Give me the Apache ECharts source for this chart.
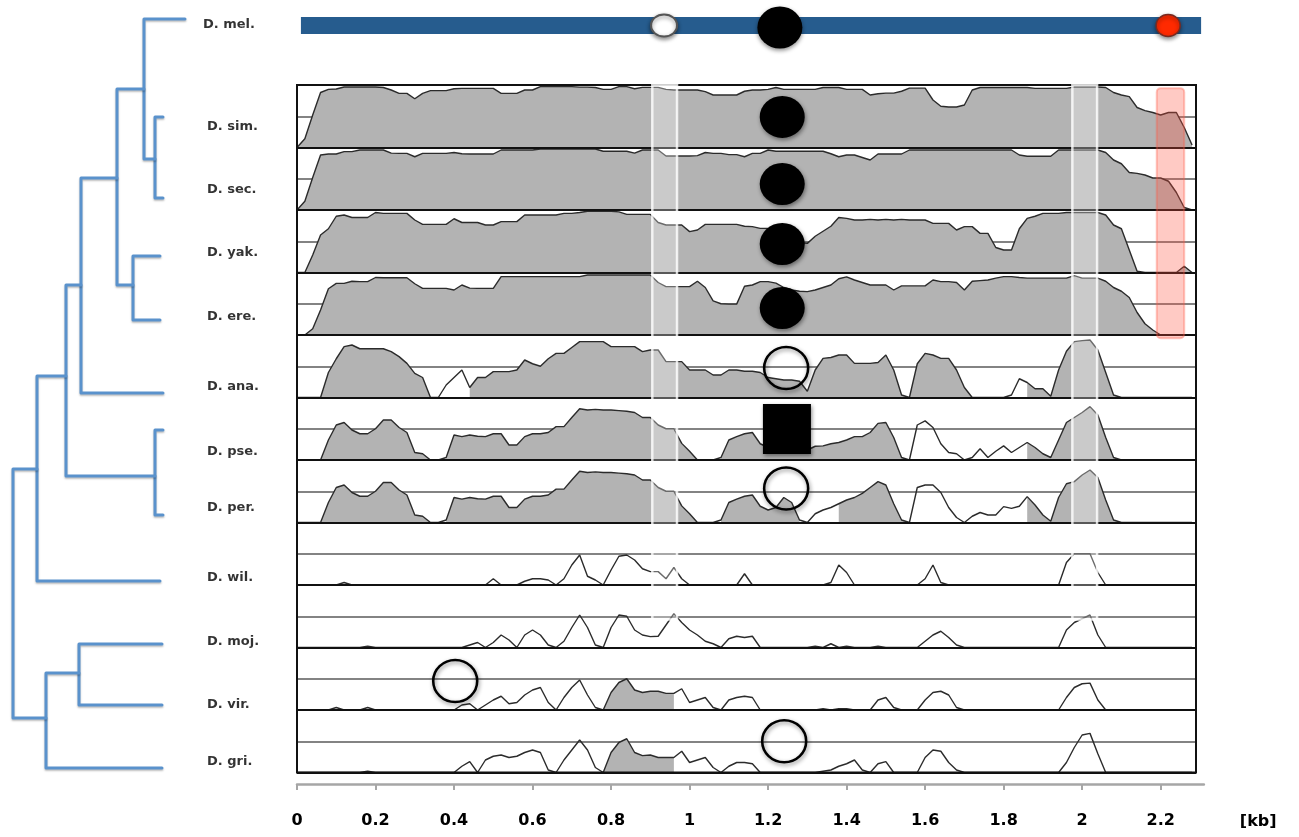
<!DOCTYPE html>
<html><head><meta charset="utf-8">
<script src="https://cdn.jsdelivr.net/npm/echarts@6/dist/echarts.min.js"></script>
<style>html,body{margin:0;padding:0;background:#fff}#c{width:1299px;height:837px}</style>
</head><body><div id="c"></div>
<script>
// ---------------- DATA ----------------
const STEP_KB = 0.02; // sampling step of the identity profiles (kb)
const xTickValues = [0, 0.2, 0.4, 0.6, 0.8, 1, 1.2, 1.4, 1.6, 1.8, 2, 2.2];
const panelSpecies = ['D. sim.','D. sec.','D. yak.','D. ere.','D. ana.','D. pse.','D. per.','D. wil.','D. moj.','D. vir.','D. gri.'];

// percent identity (50-100 scale), one value every 0.02 kb from 0 to 2.28 kb
const simValues = [50,57,76,94,96.5,96.8,98.4,98.4,98.4,98.4, 98.4,98,96,93.3,93.3,89,93.3,95.5,95.5,95.5, 97,97.3,97.3,97.3,97.3,97.3,93.3,93.3,93.3,96, 96,98.7,98.7,98.7,98.7,98.7,98.3,98.3,98,96.5, 96.5,98.7,98.7,97,98.1,98.1,98.1,96.5,96,96, 96,96,94.7,92,92,92,92,95,96,96, 96.5,98,96.5,96.5,96.5,96.5,96.5,98,98,98, 96.5,96.5,96.5,92,93,93.5,93.5,95,97.5,97.5, 97.5,88,83,82.4,82.4,84,96,98,98,98, 98,98,98,98,97.3,97.3,97.3,97.3,97.3,98.4, 98.4,98.4,98.4,98,94,92,90.7,82,79.5,78, 76,78,78,66,52];
const secValues = [50,57,76,94,94.8,94.8,96.7,96.7,98,98, 98,98,95.5,95.3,95.3,92.6,95.3,95.3,95.3,95.3, 96,95,94.8,94.8,94.8,94.8,98,98,98,98, 98,98.8,98.8,98.8,98.8,98.8,98.8,98.8,98.8,97, 97,97,97,95.5,98,98,98,93.2,93.2,93.2, 93.2,93.5,96,95.3,95.3,94.3,94.3,92.6,95.3,95.3, 98,97,97,97,97,97,97,97,95,92.6, 94,94,92,90,94.8,94.8,94.8,94.8,98,98, 98,98,98,98,98,98,98,98,98,98, 98,98,94,93,93,93,93,98,98,98, 98,98,98,96,90,87,80,79.3,78,75.6, 75.6,73,64,52,50];
const yakValues = [50,50,64,80,85,95,96,94,94,94, 98,97.3,97.3,97.3,97.3,92,88.5,88.5,88.5,88.5, 93,90,90,90,88,88,90.7,90.7,90.7,96, 96,96,96,96,97.3,97.3,98,99,99,99, 99,98.5,96.5,96.5,96.5,96.5,90,88,88,88, 82.7,84,88.5,88.5,88.5,88.5,88.5,87,86.7,85.3, 85.3,85,80,76,74,73.3,79,83,87,94, 93.3,92,92,92.5,92,92.5,92,92.5,92,92, 92,89.3,89.3,89.3,84,86.7,86.7,81.3,81.3,70, 68,68,85,93.3,95,97.3,97.3,97.3,98,98, 98,98,98,96,88,85,68,51,50,50, 50,50,50,55,50];
const ereValues = [50,50,55,70,87,91.3,91.3,93,92.7,92.7, 96,95.8,95.8,95.8,95.8,91,87.3,87.3,87.3,87.3, 86,90,87.5,87.3,87.3,87.3,96.7,96.7,96.7,96.7, 96.7,96.7,96.7,96.7,96.7,96.7,96.7,98,98,98, 98,98,98,98,98,98,92,88.7,88.7,88.7, 88.7,93,88,77.3,75,74.7,74.7,89,90,92.7, 92.7,91.5,88,86,85,84.7,86,88,90,95, 96.5,94,92,90,90,90,86,89.3,89.3,89.3, 89.3,94,92.7,92.7,92,86,93,93.5,94,95.5, 96.7,96.7,96,95.5,95.5,95.5,95.5,95.5,95.5,97.5, 95.5,95.5,95.5,93,88,85,80,68,59,54, 50,50,50,50,50];
const anaValues = [50,50,50,50,70,81,90.7,92,89,89, 89,89,86.7,82.7,77.3,69.3,66,50,50,60, 66,72,58,66,66,70.7,70.7,70.7,72,80, 77,75,81,85.3,85.3,90,94.7,94.7,94.7,94.7, 90.7,90.7,90.7,90.7,86.7,88,88,78.7,78.7,78.7, 72,72,72,68,68,72,72,71,71,70, 66,65,64,64,63,55,72,81.3,82,84, 84,77.3,77.3,77.3,78,84,72,52,50,77, 85.3,84,81.3,81.3,72,58,50,50,50,50, 50,52,65,62,57,57,51,72,87,94.7, 95.5,96,88,70,52,50,50,50,50,50, 50,50,50,50,50];
const pseValues = [50,50,50,50,66,78,80,74,71,71, 75,82,82,76,72,56,55,50,50,52, 70,68.7,70,69,68.7,71,71,62,62,68.7, 71,71,72,76.7,76.7,84,91,90,90.5,90, 90,89.5,89,88,84,84,78,75,75,63.3, 57,50,50,50,52,66,68.7,71,72,63, 60,58,57,56,57,58,61,61.3,63,64, 66,68.7,68.7,72,79.3,80,68,52,50,78, 81.3,76,63,56,55,50,52,59,52,57, 61.3,56,60,64,60,55,52,66,80,84, 88,92.7,86,68,52,50,50,50,50,50, 50,50,50,50,50];
const perValues = [50,50,50,50,66,78,80,74,71,71, 75,82,82,76,72,56,55,50,50,52, 70,68.7,70,69,68.7,71,71,62,62,68.7, 71,71,72,76.7,76.7,84,91,90,90.5,90, 90,89.5,89,88,84,84,78,75,75,63.3, 57,50,50,50,52,66,68.7,71,72,63, 60,62,70,66,52,50,57,60,62,65, 68,70,73.3,78,82.7,80,65,52,50,78, 80,80,74,62,54,50,55,58,56,56, 62.7,61.3,63,70.7,64,56,51,70,81,82.7, 88,92,86,68,52,50,50,50,50,50, 50,50,50,50,50];
const wilValues = [50,50,50,50,50,50,52,50,50,50, 50,50,50,50,50,50,50,50,50,50, 50,50,50,50,50,55,50,50,50,53, 55,55,54,50,55,66,74,57,54,50, 62,73,74,70,63,60.7,60.7,55,64,55, 50,50,50,50,50,50,50,59,50,50, 50,50,50,50,50,50,50,50,52,66, 60,50,50,50,50,50,50,50,50,50, 55,66,52,50,50,50,50,50,50,50, 50,50,50,50,50,50,50,50,68,75, 75,75,60,50,50,50,50,50,50,50, 50,50,50,50,50];
const mojValues = [50,50,50,50,50,50,50,50,50,51, 50,50,50,50,50,50,50,50,50,50, 50,50,52,54,50,54,60,56,50,60, 64,60,52,50,55,66,76,66,52,50, 66,76,75,64,60,58.7,59,68,77,70, 64,60,55,53,50,57,59,58,59,50, 50,50,50,50,50,50,51,50,53,50, 51,50,50,50,51,50,50,50,50,50, 55,60,63,58,52,50,50,50,50,50, 50,50,50,50,50,50,50,50,64,70, 73,76,60,50,50,50,50,50,50,50, 50,50,50,50,50];
const virValues = [50,50,50,50,50,52,50,50,50,52, 50,50,50,50,50,50,50,50,50,50, 50,54,55,50,54,58,61,55,56,62, 66,68,56,50,60,68,74,62,52,50, 64,72,75,66,64,65,65,63.3,63.3,67, 56,58,60,52,50,58,60,61,60,50, 50,50,50,50,50,50,50,51,50,51, 51,50,50,50,58,60,52,50,50,50, 58,64,65,62,52,50,50,50,50,50, 50,50,50,50,50,50,50,50,60,68, 71,71.5,58,50,50,50,50,50,50,50, 50,50,50,50,50];
const griValues = [50,50,50,50,50,50,50,50,50,51, 50,50,50,50,50,50,50,50,50,50, 50,55,58.7,50,60,63,64,62,63,66, 68,66,52,50,60,68,76,68,54,50, 66,74,77,66,63.5,64,62,62,62,67, 58,60,62,54,50,55,58,58,57,50, 50,50,50,50,50,50,50,51,52,55, 57,60,52,50,57,58.7,50,50,50,50, 62,68,67,58,52,50,50,50,50,50, 50,50,50,50,50,50,50,50,58,70, 80,81.3,65,50,50,50,50,50,50,50, 50,50,50,50,50];

// shaded (conserved) stretches, kb
const simShaded = [[0, 2.29]];
const secShaded = [[0, 2.29]];
const yakShaded = [[0, 2.29]];
const ereShaded = [[0, 2.29]];
const anaShaded = [[0.06, 0.34], [0.44, 1.72], [1.86, 2.10]];
const pseShaded = [[0.06, 0.34], [0.38, 1.04], [1.08, 1.32], [1.34, 1.56], [1.86, 2.10]];
const perShaded = [[0.06, 0.34], [0.38, 1.04], [1.08, 1.28], [1.38, 1.56], [1.86, 2.10]];
const wilShaded = [];
const mojShaded = [];
const virShaded = [[0.78, 0.96]];
const griShaded = [[0.78, 0.96]];

// highlighted columns (kb) and the row span they cover (panel rows, 0 = top)
const stripesKb = [[0.905, 0.968], [1.975, 2.038]];
const stripeRows = [0, 8.55];
const redBoxKb = [2.19, 2.26];
const redBoxRows = [0.05, 4.05];

// markers: [kb, panel row position]
const filledCircles = [[1.236, 0.51], [1.236, 1.584], [1.236, 2.544], [1.236, 3.568]];
const openCircles = [[1.246, 4.528], [1.246, 6.456], [0.403, 9.536], [1.241, 10.5]];
const filledSquares = [[1.248, 5.504]];

// D. mel. reference bar
const geneSpanKb = [0.01, 2.303];
const geneMarkKb = [0.935, 1.23, 2.219];
const geneMarkKind = ['white', 'black', 'red'];

// tree
const leafNames = ['D. mel.','D. sim.','D. sec.','D. yak.','D. ere.','D. ana.','D. pse.','D. per.','D. wil.','D. moj.','D. vir.','D. gri.'];
const leafTipX = [185,163,163,160,160,163,163,163,160,162,162,162];
const leafTipY = [19,117,198,256,320,393,430,515,581,644,705,768];
const leafLabelX = [203,207,207,207,207,207,207,207,207,207,207,207];
const leafLabelY = [25,127,190,253,317,387,452,508,578,642,705,762];
// [id, x of node, y where it joins its parent, upper child, lower child]
const treeNodes = [
  ['simsec', 155, 159, 'D. sim.', 'D. sec.'],
  ['melsim', 144, 89, 'D. mel.', 'simsec'],
  ['yakere', 133, 285, 'D. yak.', 'D. ere.'],
  ['melgroup', 117, 178, 'melsim', 'yakere'],
  ['melana', 81, 285, 'melgroup', 'D. ana.'],
  ['pseper', 155, 476, 'D. pse.', 'D. per.'],
  ['sophophora', 66, 376, 'melana', 'pseper'],
  ['sophwil', 37, 469, 'sophophora', 'D. wil.'],
  ['mojvir', 79, 673, 'D. moj.', 'D. vir.'],
  ['drosophila', 46, 718, 'mojvir', 'D. gri.'],
  ['root', 13, null, 'sophwil', 'drosophila']
];

// ---------------- LAYOUT ----------------
const PLOT_LEFT = 297, PLOT_W = 899, KB_MAX = 2.29;
const PANEL_TOP = 85, PANEL_H = 62.5;
const AXIS_KB_MAX = 2.31;
const FONT = 'DejaVu Sans';

const panelValues = [simValues, secValues, yakValues, ereValues, anaValues, pseValues, perValues, wilValues, mojValues, virValues, griValues];
const panelShading = [simShaded, secShaded, yakShaded, ereShaded, anaShaded, pseShaded, perShaded, wilShaded, mojShaded, virShaded, griShaded];
const kbAt = i => +(i * STEP_KB).toFixed(2);
const inShade = (k, ranges) => ranges.some(r => k >= r[0] - 1e-9 && k <= r[1] + 1e-9);

const grids = [], xAxes = [], yAxes = [], series = [];
const hiddenX = (gi, min, max) => ({gridIndex: gi, type: 'value', min, max, show: false});

// tree grid (0)
grids.push({left: 0, top: 0, width: 300, height: 837});
xAxes.push(hiddenX(0, 0, 300));
yAxes.push({gridIndex: 0, type: 'value', min: 0, max: 837, inverse: true, show: false});
const nodeById = {};
treeNodes.forEach(n => { nodeById[n[0]] = n; });
function endPoint(id) {
  const li = leafNames.indexOf(id);
  if (li >= 0) return [leafTipX[li], leafTipY[li]];
  const n = nodeById[id];
  return [n[1], n[2]];
}
const treePaths = treeNodes.map(n => {
  const a = endPoint(n[3]), b = endPoint(n[4]);
  return {coords: [a, [n[1], a[1]], [n[1], b[1]], b]};
});
series.push({
  type: 'lines', coordinateSystem: 'cartesian2d', xAxisIndex: 0, yAxisIndex: 0, polyline: true, silent: true,
  lineStyle: {color: '#5a92cc', width: 3, opacity: 1, cap: 'round', join: 'round',
    shadowColor: 'rgba(0,0,0,0.25)', shadowBlur: 2, shadowOffsetY: 1.5},
  data: treePaths
});
series.push({
  type: 'scatter', xAxisIndex: 0, yAxisIndex: 0, symbolSize: 0, silent: true,
  label: {show: true, position: 'right', distance: 0, formatter: p => p.name,
    fontFamily: FONT, fontWeight: 'bold', fontSize: 13, color: '#000'},
  data: leafNames.map((n, i) => ({name: n, value: [leafLabelX[i], leafLabelY[i]]}))
});

// reference bar grid (1)
grids.push({left: PLOT_LEFT, top: 10, width: PLOT_W, height: 31});
xAxes.push(hiddenX(1, 0, KB_MAX));
yAxes.push({gridIndex: 1, type: 'value', min: -1, max: 1, show: false});
series.push({type: 'line', xAxisIndex: 1, yAxisIndex: 1, clip: false, symbol: 'none', silent: true,
  lineStyle: {color: '#265c8e', width: 17, cap: 'butt'}, data: geneSpanKb.map(k => [k, 0]), z: 2});
const markStyle = {
  white: {size: [26, 22], offset: [0, 0], item: {color: '#fff', borderColor: '#555', borderWidth: 2}},
  black: {size: [45, 42], offset: [0, 2], item: {color: '#000'}},
  red: {size: [24, 22], offset: [0, 0], item: {color: '#ff2a00', borderColor: '#7a2a20', borderWidth: 1.5}}
};
series.push({type: 'scatter', xAxisIndex: 1, yAxisIndex: 1, silent: true, z: 4,
  data: geneMarkKb.map((k, i) => {
    const s = markStyle[geneMarkKind[i]];
    return {value: [k, 0], symbol: 'circle', symbolSize: s.size, symbolOffset: s.offset,
      itemStyle: Object.assign({opacity: 1, shadowColor: 'rgba(0,0,0,0.45)', shadowBlur: 4, shadowOffsetY: 2}, s.item)};
  })});

// panels (2..12)
panelValues.forEach((vals, p) => {
  const gi = 2 + p;
  grids.push({left: PLOT_LEFT, top: PANEL_TOP + p * PANEL_H, width: PLOT_W, height: PANEL_H});
  xAxes.push(hiddenX(gi, 0, KB_MAX));
  yAxes.push({gridIndex: gi, type: 'value', min: 50, max: 100, interval: 25,
    axisLine: {show: false}, axisTick: {show: false}, axisLabel: {show: false},
    splitLine: {show: true, lineStyle: {color: '#5a5a5a', width: 1.5}}});
  const pts = vals.map((v, i) => [kbAt(i), v]);
  const shade = panelShading[p];
  if (shade.length) {
    series.push({type: 'line', name: panelSpecies[p] + ' shaded', xAxisIndex: gi, yAxisIndex: gi, symbol: 'none', silent: true,
      connectNulls: false, lineStyle: {width: 0, opacity: 0},
      areaStyle: {color: '#b3b3b3', opacity: 1, origin: 'start'},
      data: pts.map(([k, v]) => [k, inShade(k, shade) ? v : null]), z: 2});
  }
  series.push({type: 'line', name: panelSpecies[p], xAxisIndex: gi, yAxisIndex: gi, symbol: 'none', silent: true,
    lineStyle: {color: '#2b2b2b', width: 1.4}, data: pts, z: 3});
});

// overlay grid (13): frames, stripes, markers
const OV = 13;
grids.push({left: PLOT_LEFT, top: PANEL_TOP, width: PLOT_W, height: PANEL_H * 11, show: true, z: 10,
  borderColor: '#111', borderWidth: 2, backgroundColor: 'transparent'});
xAxes.push(hiddenX(OV, 0, KB_MAX));
yAxes.push({gridIndex: OV, type: 'value', min: 0, max: 11, interval: 1, inverse: true, z: 10,
  axisLine: {show: false}, axisTick: {show: false}, axisLabel: {show: false},
  splitLine: {show: true, lineStyle: {color: '#111', width: 2}}});
const rectItem = (style, r) => (params, api) => {
  const p0 = api.coord([api.value(0), api.value(2)]);
  const p1 = api.coord([api.value(1), api.value(3)]);
  return {type: 'rect', shape: {x: p0[0], y: p0[1], width: p1[0] - p0[0], height: p1[1] - p0[1], r: r},
    style: style};
};
series.push({type: 'custom', xAxisIndex: OV, yAxisIndex: OV, silent: true, z: 11,
  encode: {x: [0, 1], y: [2, 3]},
  renderItem: rectItem({fill: 'rgba(255,255,255,0.3)', stroke: 'rgba(255,255,255,0.8)', lineWidth: 2.5}, 0),
  data: stripesKb.map(s => [s[0], s[1], stripeRows[0], stripeRows[1]])});
series.push({type: 'custom', xAxisIndex: OV, yAxisIndex: OV, silent: true, z: 11,
  encode: {x: [0, 1], y: [2, 3]},
  renderItem: rectItem({fill: 'rgba(255,80,60,0.3)', stroke: 'rgba(255,90,70,0.35)', lineWidth: 2}, 4),
  data: [[redBoxKb[0], redBoxKb[1], redBoxRows[0], redBoxRows[1]]]});
const shadow = {opacity: 1, shadowColor: 'rgba(0,0,0,0.45)', shadowBlur: 4, shadowOffsetY: 2, shadowOffsetX: 1};
series.push({type: 'scatter', xAxisIndex: OV, yAxisIndex: OV, silent: true, z: 12, symbol: 'circle',
  symbolSize: [45, 42], itemStyle: Object.assign({color: '#000'}, shadow), data: filledCircles});
series.push({type: 'scatter', xAxisIndex: OV, yAxisIndex: OV, silent: true, z: 12, symbol: 'circle',
  symbolSize: [44, 42], itemStyle: Object.assign({color: 'rgba(0,0,0,0)', borderColor: '#000', borderWidth: 2.5}, shadow),
  data: openCircles});
series.push({type: 'scatter', xAxisIndex: OV, yAxisIndex: OV, silent: true, z: 12, symbol: 'rect',
  symbolSize: [48, 50], itemStyle: Object.assign({color: '#000'}, shadow), data: filledSquares});

// bottom kb axis (14)
grids.push({left: PLOT_LEFT, top: 783, width: AXIS_KB_MAX * PLOT_W / KB_MAX, height: 1});
xAxes.push({gridIndex: 14, type: 'value', min: 0, max: AXIS_KB_MAX,
  name: '[kb]', nameLocation: 'end', nameGap: 36,
  nameTextStyle: {fontFamily: FONT, fontWeight: 'bold', fontSize: 16, color: '#000', verticalAlign: 'top', padding: [30, 0, 0, 0]},
  axisLine: {show: true, lineStyle: {color: '#a6a6a6', width: 2.5}},
  axisTick: {show: true, customValues: xTickValues, length: 6, lineStyle: {color: '#a6a6a6', width: 2}},
  axisLabel: {show: true, customValues: xTickValues, margin: 29, fontFamily: FONT, fontWeight: 'bold', fontSize: 16, color: '#000'},
  splitLine: {show: false}});
yAxes.push({gridIndex: 14, type: 'value', min: 0, max: 1, show: false});

const chart = echarts.init(document.getElementById('c'));
chart.setOption({animation: false, grid: grids, xAxis: xAxes, yAxis: yAxes, series: series});
</script></body></html>
